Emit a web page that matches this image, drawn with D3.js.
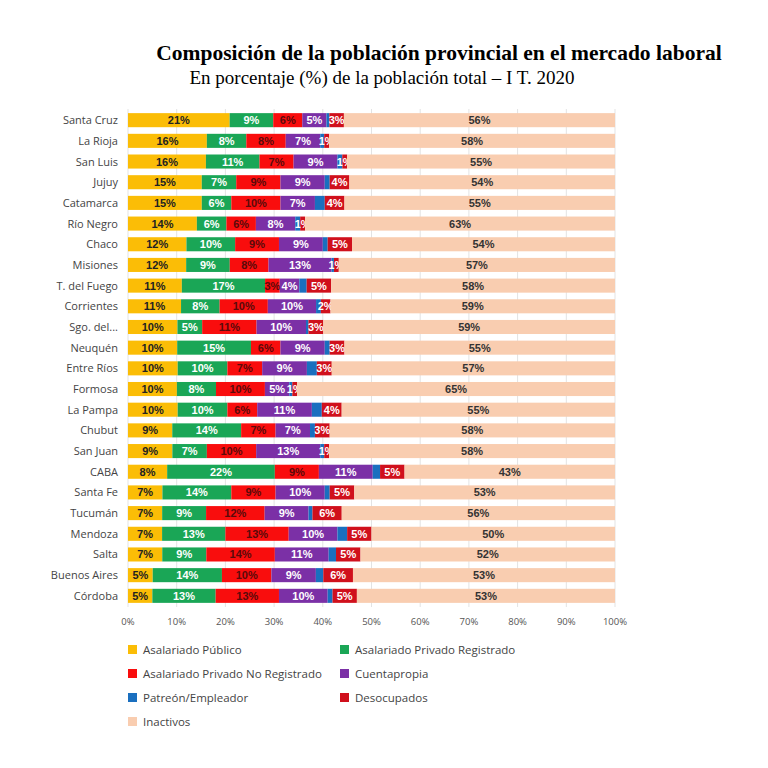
<!DOCTYPE html>
<html><head><meta charset="utf-8">
<script src="https://cdn.jsdelivr.net/npm/d3@7"></script>
<style>body{margin:0;background:#fff}</style>
</head><body>
<svg id="chart" width="768" height="768"></svg>
<script>
var provinces = ['Santa Cruz','La Rioja','San Luis','Jujuy','Catamarca','Río Negro','Chaco','Misiones','T. del Fuego','Corrientes','Sgo. del...','Neuquén','Entre Ríos','Formosa','La Pampa','Chubut','San Juan','CABA','Santa Fe','Tucumán','Mendoza','Salta','Buenos Aires','Córdoba'];
var publico   = [21,16,16,15,15,14,12,12,11,11,10,10,10,10,10,9,9,8,7,7,7,7,5,5];
var privReg   = [9,8,11,7,6,6,10,9,17,8,5,15,10,8,10,14,7,22,14,9,13,9,14,13];
var privNoReg = [6,8,7,9,10,6,9,8,3,10,11,6,7,10,6,7,10,9,9,12,13,14,10,13];
var cuenta    = [5,7,9,9,7,8,9,13,4,10,10,9,9,5,11,7,13,11,10,9,10,11,9,10];
var patron    = [0.6,0.8,1,1,2,1,1,0.5,1.5,1,0.5,1,2,0.6,2,1,0.8,1.5,1,0.8,2,1.5,1.5,1];
var desoc     = [3,1,1,4,4,1,5,1,5,2,3,3,3,1,4,3,1,5,5,6,5,5,6,5];
var inactivos = [56,58,55,54,55,63,54,57,58,59,59,55,57,65,55,58,58,43,53,56,50,52,53,53];
var series = ['Asalariado Público','Asalariado Privado Registrado','Asalariado Privado No Registrado','Cuentapropia','Patreón/Empleador','Desocupados','Inactivos'];
var colors = ['#fbbd06','#1aa656','#f90d0d','#7b30a6','#1a6fbf','#d0101c','#f9cdb0'];
var textCol = ['#222','#fff','#5a0a0a','#fff','#fff','#fff','#333'];
var ticks = [0,10,20,30,40,50,60,70,80,90,100];

var svg = d3.select('#chart');
var cols = [publico,privReg,privNoReg,cuenta,patron,desoc,inactivos];
var rows = provinces.map(function (p, i) {
  var o = {name: p};
  series.forEach(function (s, k) { o[s] = cols[k][i]; });
  return o;
});
// bars are drawn as shares of 100%, the labels keep the read values
var stack = d3.stack().keys(series).offset(d3.stackOffsetExpand)(rows);

var x = d3.scaleLinear().domain([0,1]).range([128,615]);
var xt = d3.scaleLinear().domain([0,100]).range([128,615]);
var y = d3.scaleBand().domain(provinces).range([109,607]).paddingInner(0.32).paddingOuter(0.2);

svg.append('text').attr('x',439).attr('y',60).attr('text-anchor','middle')
  .style('font-family','Liberation Serif').style('font-weight','bold').style('font-size','21.5px')
  .text('Composición de la población provincial en el mercado laboral');
svg.append('text').attr('x',382).attr('y',84).attr('text-anchor','middle')
  .style('font-family','Liberation Serif').style('font-size','19px')
  .text('En porcentaje (%) de la población total – I T. 2020');

svg.append('g').selectAll('line').data(ticks).enter().append('line')
  .attr('x1',function (d) {return xt(d);}).attr('x2',function (d) {return xt(d);})
  .attr('y1',109).attr('y2',607).style('stroke','#e3e3e3');

var g = svg.selectAll('g.layer').data(stack).enter().append('g').attr('class','layer');
g.selectAll('rect').data(function (d) {return d;}).enter().append('rect')
  .attr('x',function (d) {return x(d[0]);})
  .attr('width',function (d) {return x(d[1]) - x(d[0]);})
  .attr('y',function (d) {return y(d.data.name);})
  .attr('height',y.bandwidth())
  .style('fill',function () {return colors[series.indexOf(d3.select(this.parentNode).datum().key)];});

g.each(function (layer, k) {
  if (k === 4) return;
  d3.select(this).selectAll('text').data(layer).enter().append('text')
    .attr('x',function (d) {return (x(d[0]) + x(d[1])) / 2;})
    .attr('y',function (d) {return y(d.data.name) + y.bandwidth()/2 + 4;})
    .attr('text-anchor','middle')
    .style('font-family','Liberation Sans').style('font-weight','bold').style('font-size','11px')
    .style('fill',textCol[k])
    .text(function (d) {return d.data[series[k]] + '%';});
});

svg.append('g').selectAll('text').data(provinces).enter().append('text')
  .attr('x',118).attr('y',function (d) {return y(d) + y.bandwidth()/2 + 4;})
  .attr('text-anchor','end').style('font-family','Open Sans').style('font-size','11px').style('fill','#444')
  .text(function (d) {return d;});

svg.append('g').selectAll('text').data(ticks).enter().append('text')
  .attr('x',function (d) {return xt(d);}).attr('y',625).attr('text-anchor','middle')
  .style('font-family','Open Sans').style('font-size','9.5px').style('fill','#555')
  .text(function (d) {return d + '%';});

var leg = svg.append('g').selectAll('g').data(series).enter().append('g')
  .attr('transform',function (d, i) {return 'translate(' + (i % 2 ? 340 : 128) + ',' + (650 + Math.floor(i/2)*24) + ')';});
leg.append('rect').attr('y',-5).attr('width',9).attr('height',9)
  .style('fill',function (d, i) {return colors[i];});
leg.append('text').attr('x',15).attr('y',4)
  .style('font-family','Open Sans').style('font-size','11.5px').style('fill','#444')
  .text(function (d) {return d;});
</script>
</body></html>
